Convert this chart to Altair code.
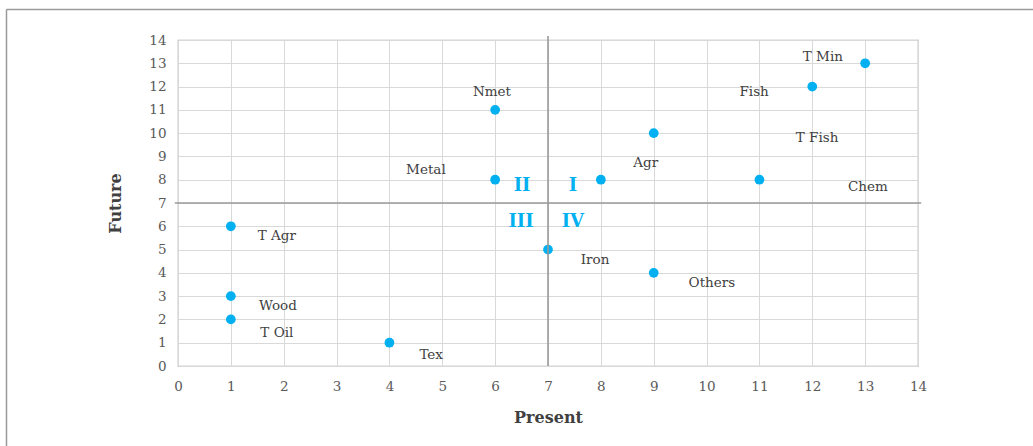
import altair as alt
import pandas as pd

# Sector positions: present vs. future attractiveness
sector_present = [1, 1, 1, 4, 6, 6, 7, 8, 9, 9, 11, 12, 13]
sector_future = [6, 3, 2, 1, 11, 8, 5, 8, 10, 4, 8, 12, 13]

# Sector labels and where each one sits (data units)
label_text = ["T Agr", "Wood", "T Oil", "Tex", "Nmet", "Metal", "Iron", "Agr",
              "Others", "T Fish", "Chem", "Fish", "T Min"]
label_x = [1.87, 1.89, 1.87, 4.79, 5.94, 4.69, 7.89, 8.85, 10.10, 12.09, 13.05, 10.90, 12.20]
label_y = [5.58, 2.58, 1.42, 0.47, 11.77, 8.42, 4.55, 8.72, 3.56, 9.79, 7.69, 11.77, 13.27]

# Quadrant numerals
quad_text = ["I", "II", "III", "IV"]
quad_x = [7.47, 6.51, 6.49, 7.47]
quad_y = [7.73, 7.73, 6.18, 6.18]

# Quadrant dividers
mid_x = 7
mid_y = 7

FONT = "DejaVu Serif"
BLUE = "#00b0f0"

points = pd.DataFrame({"Present": sector_present, "Future": sector_future})
labels = pd.DataFrame({"x": label_x, "y": label_y, "t": label_text})
quads = pd.DataFrame({"x": quad_x, "y": quad_y, "t": quad_text})

xs = alt.Scale(domain=[0, 14], nice=False, zero=False)
ys = alt.Scale(domain=[0, 14], nice=False, zero=False)

x_axis = alt.Axis(values=list(range(0, 15)), title="Present", grid=True, labelFlush=False,
                  ticks=False, domain=False, labelPadding=13, titlePadding=17)
y_axis = alt.Axis(values=list(range(0, 15)), title="Future", grid=True, labelFlush=False,
                  ticks=False, domain=False, labelPadding=12, titlePadding=25)


def X(field):
    return alt.X(field, scale=xs, axis=x_axis)


def Y(field):
    return alt.Y(field, scale=ys, axis=y_axis)


base_pts = alt.Chart(points).mark_circle(size=95, color=BLUE, opacity=1).encode(
    x=X("Present:Q"), y=Y("Future:Q"),
)

vline = alt.Chart(pd.DataFrame({"x": [mid_x], "y": [0.0], "y2": [14.17]})).mark_rule(
    color="#9a9a9a", strokeWidth=1.6, clip=False
).encode(x=X("x:Q"), y=Y("y:Q"), y2="y2:Q")

hline = alt.Chart(pd.DataFrame({"y": [mid_y], "x": [-0.06], "x2": [14.06]})).mark_rule(
    color="#9a9a9a", strokeWidth=1.6, clip=False
).encode(y=Y("y:Q"), x=X("x:Q"), x2="x2:Q")

label_layer = alt.Chart(labels).mark_text(
    font=FONT, fontSize=13.5, color="#404040", align="center", baseline="middle"
).encode(x=X("x:Q"), y=Y("y:Q"), text="t:N")

quad_layer = alt.Chart(quads).mark_text(
    font=FONT, fontSize=18, fontWeight="bold", color=BLUE, align="center", baseline="middle"
).encode(x=X("x:Q"), y=Y("y:Q"), text="t:N")

# Outer frame lines (top and left edges of the figure)
frame_top = alt.Chart(pd.DataFrame({"a": [0]})).mark_rule(color="#9a9a9a", strokeWidth=1.5).encode(
    x=alt.value(-171.5), x2=alt.value(870), y=alt.value(-30.5)
)
frame_left = alt.Chart(pd.DataFrame({"a": [0]})).mark_rule(color="#9a9a9a", strokeWidth=1.5).encode(
    x=alt.value(-171.5), y=alt.value(-30.5), y2=alt.value(420)
)

chart = alt.layer(
    base_pts, vline, hline, label_layer, quad_layer, frame_top, frame_left
).properties(
    width=740,
    height=326,
    background="white",
    autosize=alt.AutoSizeParams(type="none"),
    padding={"left": 178, "top": 40, "right": 115, "bottom": 80},
).configure_view(
    stroke="#a6a6a6", strokeWidth=1.2
).configure_axis(
    gridColor="#d9d9d9", gridWidth=1,
    labelFont=FONT, labelFontSize=13.5, labelColor="#595959",
    titleFont=FONT, titleFontSize=16, titleFontWeight="bold", titleColor="#404040",
)

chart.save("out.html", embed_options={"renderer": "svg", "actions": False})
